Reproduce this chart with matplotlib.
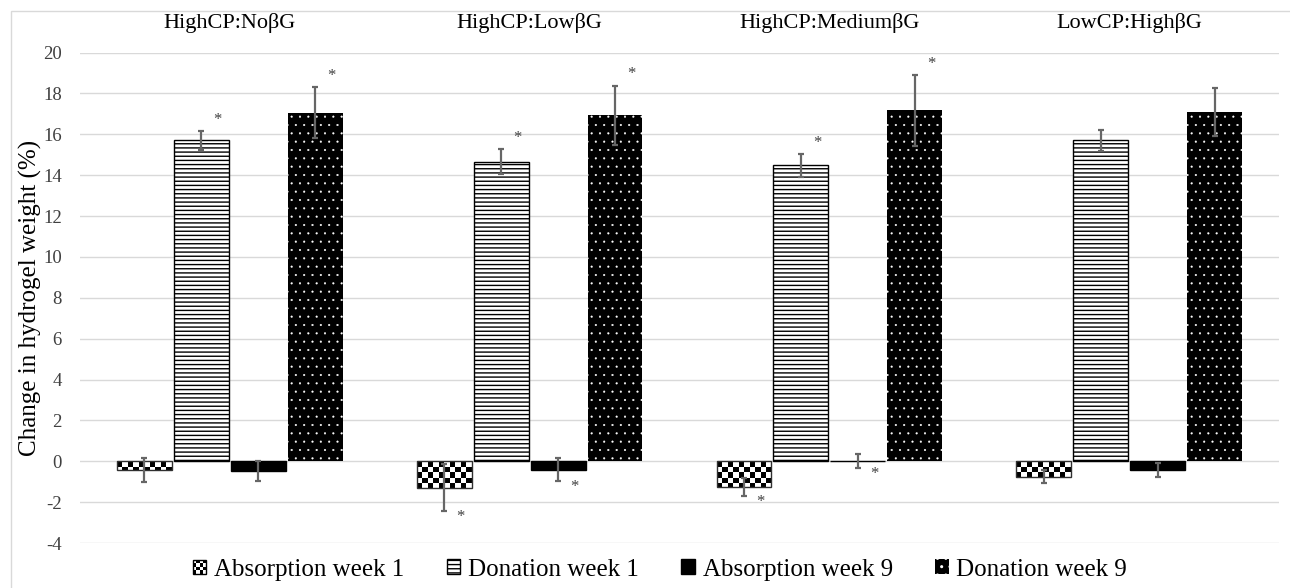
import numpy as np
import matplotlib.pyplot as plt
from matplotlib.patches import Patch, Rectangle
from matplotlib.legend_handler import HandlerBase

groups = ["HighCP:NoβG", "HighCP:LowβG", "HighCP:MediumβG", "LowCP:HighβG"]
series = ["Absorption week 1", "Donation week 1", "Absorption week 9", "Donation week 9"]

absorption_w1 = [-0.42, -1.30, -1.25, -0.76]
absorption_w1_err = [0.57, 1.15, 0.44, 0.31]
donation_w1 = [15.7, 14.66, 14.48, 15.7]
donation_w1_err = [0.47, 0.62, 0.57, 0.49]
absorption_w9 = [-0.48, -0.41, 0.02, -0.42]
absorption_w9_err = [0.48, 0.57, 0.35, 0.36]
donation_w9 = [17.05, 16.93, 17.17, 17.08]
donation_w9_err = [1.25, 1.45, 1.73, 1.17]

# which bars carry a "*"
absorption_w1_sig = [False, True, True, False]
donation_w1_sig = [True, True, True, False]
absorption_w9_sig = [False, True, True, False]
donation_w9_sig = [True, True, True, False]

plt.rcParams['font.family'] = ['Liberation Serif', 'DejaVu Serif']
plt.rcParams['hatch.linewidth'] = 1.0
plt.rcParams['axes.unicode_minus'] = False


class HandlerChecker(HandlerBase):
    def create_artists(self, legend, orig_handle, xdescent, ydescent,
                       width, height, fontsize, trans):
        s = min(width, height)
        x0 = -xdescent + (width - s) / 2
        y0 = -ydescent + (height - s) / 2
        n = 4
        arts = [Rectangle((x0, y0), s, s, facecolor='white', edgecolor='black',
                          lw=1, transform=trans)]
        for i in range(n):
            for j in range(n):
                if (i + j) % 2 == 0:
                    arts.append(Rectangle((x0 + i * s / n, y0 + j * s / n), s / n, s / n,
                                          facecolor='black', lw=0, transform=trans))
        return arts


fig = plt.figure(figsize=(12.9, 5.88), dpi=100)
ax = fig.add_axes([0.062, 0.0765, 0.9295, 0.834])

x = np.arange(len(groups))
w = 0.183
step = 0.19
offs = [(i - 1.5) * step for i in range(4)]

values = [absorption_w1, donation_w1, absorption_w9, donation_w9]
errors = [absorption_w1_err, donation_w1_err, absorption_w9_err, donation_w9_err]
sigs = [absorption_w1_sig, donation_w1_sig, absorption_w9_sig, donation_w9_sig]

# absorption week 1: checkerboard
b1 = ax.bar(x + offs[0], absorption_w1, w, facecolor='none', edgecolor='#303030', lw=1, zorder=3)
sq_y = 0.27
for bar in b1:
    x0 = bar.get_x()
    h = bar.get_height()
    rows = int(np.ceil(abs(h) / sq_y)) + 1
    checks = np.indices((rows, 10)).sum(axis=0) % 2
    yext = np.sign(h) * rows * sq_y
    im = ax.imshow(checks, cmap='gray', extent=(x0, x0 + w, min(0, yext), max(0, yext)),
                   interpolation='nearest', aspect='auto', zorder=2)
    im.set_clip_path(bar)

# donation week 1: horizontal stripes
ax.bar(x + offs[1], donation_w1, w, facecolor='white', edgecolor='black', hatch='----', lw=1, zorder=3)
# absorption week 9: solid black
ax.bar(x + offs[2], absorption_w9, w, facecolor='black', edgecolor='black', lw=1, zorder=3)
# donation week 9: black with small white dots
with plt.rc_context({'hatch.linewidth': 0.3}):
    b4 = ax.bar(x + offs[3], donation_w9, w, facecolor='black', edgecolor='white',
                hatch='..', lw=0, zorder=3)
for bar in b4:
    if hasattr(bar, 'set_hatch_linewidth'):
        bar.set_hatch_linewidth(0.3)

for k in range(4):
    ax.errorbar(x + offs[k], values[k], yerr=errors[k], fmt='none', ecolor='#666666',
                elinewidth=1.6, capsize=2.5, capthick=1.6, zorder=4)
    for j in range(len(groups)):
        if not sigs[k][j]:
            continue
        v, e = values[k][j], errors[k][j]
        if v > 0.1:
            ys = v + e + 0.55
        else:
            ys = v - e - 0.3
        ax.text(x[j] + offs[k] + 0.055, ys, "*", ha='center', va='center',
                fontsize=12, color='#404040', zorder=5)

ax.set_xlim(-0.5, 3.5)
ax.set_ylim(-4, 20)
ax.set_yticks(np.arange(-4, 21, 2))
ax.set_xticks([])
ax.tick_params(axis='y', length=0, pad=13, labelsize=13.5, labelcolor='#404040')
ax.yaxis.grid(True, color='#d9d9d9', lw=1)
ax.set_axisbelow(True)
for sp in ax.spines.values():
    sp.set_visible(False)

for j, g in enumerate(groups):
    ax.text(x[j], 1.061, g, transform=ax.get_xaxis_transform(), ha='center', va='center',
            fontsize=16, color='black')

fig.text(30 / 1290, 0.493, "Change in hydrogel weight (%)", rotation=90,
         ha='center', va='center', fontsize=18)

handles = [
    Patch(facecolor='white', edgecolor='black'),
    Patch(facecolor='white', edgecolor='black', hatch='----'),
    Patch(facecolor='black', edgecolor='black'),
    Patch(facecolor='black', edgecolor='white', hatch='..', lw=0),
]
fig.legend(handles, series, loc='center', bbox_to_anchor=(0.5116, 0.031), ncol=4,
           frameon=False, fontsize=18, handlelength=0.55, handleheight=0.55,
           handletextpad=0.3, columnspacing=1.7, borderpad=0,
           handler_map={handles[0]: HandlerChecker()})

fig.patches.append(Rectangle((11 / 1290, -0.1), 1.5, 1.1 - 11 / 588, transform=fig.transFigure,
                             fill=False, edgecolor='#d9d9d9', lw=1))

fig.savefig("out.png", dpi=100)
